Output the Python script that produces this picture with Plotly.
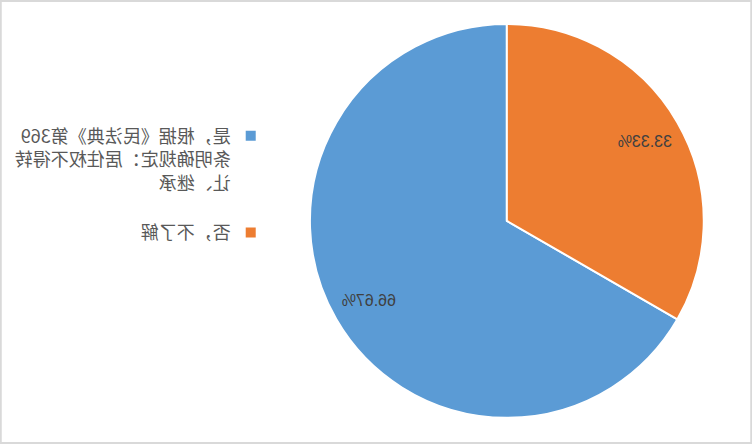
import math
import plotly.graph_objects as go

# 饼图数据
labels = ["是，根据《民法典》第369<br>条明确规定：居住权不得转<br>让、继承<br> ", "否，不了解"]
values = [2, 1]
colors = ["#5b9bd5", "#ed7d31"]

W, H = 752, 444
dom_x = [0.064, 0.588]
dom_y = [0.059, 0.946]

fig = go.Figure()
fig.add_trace(go.Pie(
    labels=labels,
    values=values,
    sort=False,
    direction="clockwise",
    rotation=0,
    marker=dict(colors=colors, line=dict(color="white", width=2)),
    textinfo="none",
    domain=dict(x=dom_x, y=dom_y),
))

# 百分比标签放在扇区中线、约0.8倍半径处
cx = (dom_x[0] + dom_x[1]) / 2 * W
cy = (dom_y[0] + dom_y[1]) / 2 * H
R = min((dom_x[1] - dom_x[0]) * W, (dom_y[1] - dom_y[0]) * H) / 2
total = sum(values)
cum = 0
annotations = []
for v in values:
    a = 2 * math.pi * (cum + v / 2) / total
    cum += v
    x = cx + 0.81 * R * math.sin(a)
    y = cy + 0.81 * R * math.cos(a)
    annotations.append(dict(
        x=x / W, y=y / H, xref="paper", yref="paper", showarrow=False,
        xanchor="center", yanchor="middle",
        text=f"{v / total * 100:.2f}%",
        font=dict(family="Liberation Sans", size=16, color="#404040"),
    ))

fig.update_layout(
    width=W, height=H,
    margin=dict(l=0, r=0, t=0, b=0),
    paper_bgcolor="white",
    showlegend=True,
    legend=dict(
        x=0.64, y=0.735, xanchor="left", yanchor="top",
        valign="top",
        font=dict(family="Noto Sans CJK SC", size=18, color="#595959"),
        itemwidth=30,
    ),
    annotations=annotations,
    shapes=[dict(type="rect", xref="paper", yref="paper", x0=0.001, x1=0.999, y0=0.002, y1=0.998,
                 line=dict(color="#d9d9d9", width=2))],
)

# 参考图是水平镜像的
flip = "document.body.style.margin='0';document.getElementById('{plot_id}').style.transform='scaleX(-1)';"
fig.write_html("out.html", post_script=flip, config={"displayModeBar": False})
